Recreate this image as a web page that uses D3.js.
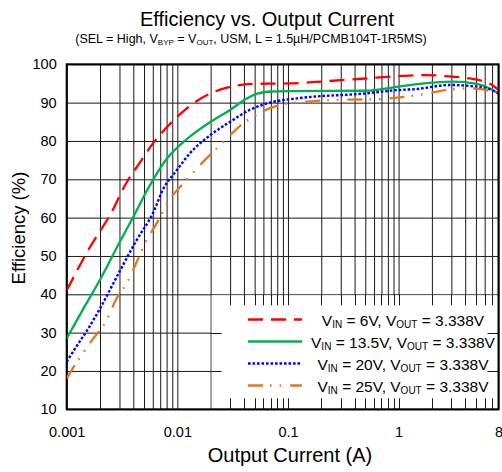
<!DOCTYPE html>
<html><head><meta charset="utf-8">
<script src="https://cdn.jsdelivr.net/npm/d3@7"></script>
<style>
body{margin:0;background:#fff}
text{font-family:"Liberation Sans",Arial,Helvetica,sans-serif;fill:#000}
</style>
</head><body>
<svg id="chart" width="502" height="472"></svg>
<script>
// ---- data ----
const vinLabels = ["6V", "13.5V", "20V", "25V"];
const voutLabel = "3.338V";
const seriesColors = ["#ff0000", "#00b050", "#0000ff", "#e2771f"];

const current6V = [0.001, 0.0016, 0.0025, 0.0035, 0.0045, 0.006, 0.008, 0.0128, 0.02, 0.032, 0.05, 0.1, 0.2, 0.5, 1, 1.7, 2.7, 4.4, 6.7, 8];
const eff6V     = [41, 52, 61, 69.3, 74, 79.3, 83.5, 89, 92.4, 94.3, 94.9, 95.0, 95.5, 96.3, 96.9, 97.2, 96.9, 96.3, 94.9, 93.3];

const current13V = [0.001, 0.0014, 0.002, 0.003, 0.004, 0.0053, 0.008, 0.0128, 0.02, 0.03, 0.042, 0.052, 0.07, 0.12, 0.5, 1, 2, 3.1, 5.1, 6.7, 8];
const eff13V     = [28.5, 36, 43.8, 53.5, 60.2, 67, 75.3, 81, 85, 88.1, 91, 92.3, 92.9, 93.0, 93.1, 94.2, 95.2, 95.5, 94.9, 93.7, 92.4];

const current20V = [0.001, 0.0012, 0.0016, 0.002, 0.003, 0.0043, 0.006, 0.0075, 0.0099, 0.013, 0.02, 0.03, 0.045, 0.069, 0.12, 0.5, 1, 1.4, 2.9, 4.5, 6.5, 8];
const eff20V     = [22.4, 26, 31.5, 36.3, 45.9, 54.2, 61.1, 67.6, 72.4, 76.8, 81.6, 85, 88.1, 90, 91.1, 92.4, 93.3, 93.5, 94.6, 94.3, 93.6, 92.4];

const current25V = [0.001, 0.0013, 0.0017, 0.0023, 0.0028, 0.0035, 0.0043, 0.0051, 0.0065, 0.0089, 0.011, 0.0172, 0.0243, 0.0395, 0.058, 0.091, 0.143, 0.257, 0.635, 1.68, 2.73, 4.43, 6.5, 8];
const eff25V     = [18.1, 23.3, 28.1, 33.3, 38.7, 42.9, 48.5, 53.3, 58.5, 65.5, 68.5, 74.6, 78.9, 84.6, 87.6, 89.6, 90.2, 90.7, 90.9, 92.2, 93.3, 93.7, 93.2, 92.5];

const yTicks = [10, 20, 30, 40, 50, 60, 70, 80, 90, 100];
const xTickValues = [0.001, 0.01, 0.1, 1, 8];
const xTickLabels = ["0.001", "0.01", "0.1", "1", "8"];

// ---- layout ----
const L = 66.7, R = 498.5, T = 64.3, B = 409.3;
const x = d3.scaleLog().domain([0.001, 8]).range([L, R]);
const y = d3.scaleLinear().domain([10, 100]).range([B, T]);
const svg = d3.select("#chart");
svg.append("rect").attr("width", 502).attr("height", 472).attr("fill", "#fff");

// minor grid positions (1..9 per decade)
const gridX = [];
[0.001, 0.01, 0.1, 1].forEach(dec => {
  for (let k = 1; k <= 9; k++) { const v = +(k * dec).toPrecision(3); if (v <= 8) gridX.push(v); }
});

// vertical grid
svg.append("g").attr("transform", `translate(0,${B})`)
  .call(d3.axisBottom(x).tickValues(gridX).tickSize(-(B - T)).tickFormat(""))
  .call(g => g.select(".domain").remove())
  .call(g => g.selectAll("line").attr("stroke", "#1a1a1a").attr("stroke-width", 1));
// horizontal grid
svg.append("g").attr("transform", `translate(${L},0)`)
  .call(d3.axisLeft(y).tickValues(yTicks).tickSize(-(R - L)).tickFormat(""))
  .call(g => g.select(".domain").remove())
  .call(g => g.selectAll("line").attr("stroke", "#1a1a1a").attr("stroke-width", 1));

// legend inset box (covers grid, keeps edge ticks)
const lx0 = x(0.02), ly0 = y(40);
svg.append("rect").attr("x", lx0 + 1).attr("y", ly0 + 1)
  .attr("width", R - lx0 - 2).attr("height", B - ly0 - 2).attr("fill", "#fff");
const tickLen = 11;
const insideX = gridX.filter(v => v > 0.02 && v < 8);
const tg = svg.append("g").attr("stroke", "#1a1a1a").attr("stroke-width", 1);
insideX.forEach(v => {
  const px = Math.round(x(v)) + 0.5;
  tg.append("line").attr("x1", px).attr("x2", px).attr("y1", ly0).attr("y2", ly0 + tickLen);
  tg.append("line").attr("x1", px).attr("x2", px).attr("y1", B - tickLen).attr("y2", B);
});
yTicks.filter(v => v > 10 && v < 40).forEach(v => {
  const py = Math.round(y(v)) + 0.5;
  tg.append("line").attr("x1", lx0).attr("x2", lx0 + tickLen).attr("y1", py).attr("y2", py);
  tg.append("line").attr("x1", R - tickLen).attr("x2", R).attr("y1", py).attr("y2", py);
});

// frame
svg.append("rect").attr("x", L).attr("y", T).attr("width", R - L).attr("height", B - T)
  .attr("fill", "none").attr("stroke", "#000").attr("stroke-width", 2);

// curves
svg.append("clipPath").attr("id", "clip").append("rect")
  .attr("x", L).attr("y", T).attr("width", R - L).attr("height", B - T);
const series = [
  {c: current6V, e: eff6V, dash: "15,8", w: 2.3},
  {c: current13V, e: eff13V, dash: null, w: 2.3},
  {c: current20V, e: eff20V, dash: "2.6,1.9", w: 2.4},
  {c: current25V, e: eff25V, dash: "15,7,1.6,8,1.6,9", w: 2.3}
];
const line = d3.line().x(d => x(d[0])).y(d => y(d[1])).curve(d3.curveMonotoneX);
const cg = svg.append("g").attr("clip-path", "url(#clip)");
series.forEach((s, i) => {
  cg.append("path").datum(s.c.map((v, j) => [v, s.e[j]]))
    .attr("d", line).attr("fill", "none").attr("stroke", seriesColors[i])
    .attr("stroke-width", s.w).attr("stroke-dasharray", s.dash);
});

// axes labels
svg.append("g").attr("transform", `translate(${L},0)`)
  .call(d3.axisLeft(y).tickValues(yTicks).tickSize(0).tickPadding(10))
  .call(g => g.select(".domain").remove())
  .call(g => g.selectAll("text").style("font-size", "14.5px")
      .style("font-family", '"Liberation Sans",Arial,sans-serif').attr("fill", "#000"));
svg.append("g").attr("transform", `translate(0,${B})`)
  .call(d3.axisBottom(x).tickValues(xTickValues).tickFormat((d, i) => xTickLabels[i]).tickSize(0).tickPadding(17))
  .call(g => g.select(".domain").remove())
  .call(g => g.selectAll("text").style("font-size", "14.5px")
      .style("font-family", '"Liberation Sans",Arial,sans-serif').attr("fill", "#000"));

// titles
svg.append("text").attr("x", 267).attr("y", 26).attr("text-anchor", "middle")
  .style("font-size", "20px").text("Efficiency vs. Output Current");
const sub = svg.append("text").attr("x", 251).attr("y", 43).attr("text-anchor", "middle").style("font-size", "12.5px");
sub.append("tspan").text("(SEL = High, V");
sub.append("tspan").attr("dy", 2).style("font-size", "8px").text("BYP");
sub.append("tspan").attr("dy", -2).text(" = V");
sub.append("tspan").attr("dy", 2).style("font-size", "8px").text("OUT");
sub.append("tspan").attr("dy", -2).text(", USM, L = 1.5µH/PCMB104T-1R5MS)");

svg.append("text").attr("transform", "translate(25,228) rotate(-90)").attr("text-anchor", "middle")
  .style("font-size", "18.5px").text("Efficiency (%)");
svg.append("text").attr("x", 290).attr("y", 462).attr("text-anchor", "middle")
  .style("font-size", "20px").text("Output Current (A)");

// legend
vinLabels.forEach((vin, i) => {
  const ly = 319.5 + i * 22;
  svg.append("line").attr("x1", 248).attr("x2", 302).attr("y1", ly).attr("y2", ly)
    .attr("stroke", seriesColors[i]).attr("stroke-width", series[i].w).attr("stroke-dasharray", series[i].dash);
  const t = svg.append("text").attr("x", 403).attr("y", ly + 6.5).attr("text-anchor", "middle").style("font-size", "15.5px");
  t.append("tspan").text("V");
  t.append("tspan").attr("dy", 2).style("font-size", "10px").text("IN");
  t.append("tspan").attr("dy", -2).text(" = " + vin + ", V");
  t.append("tspan").attr("dy", 2).style("font-size", "10px").text("OUT");
  t.append("tspan").attr("dy", -2).text(" = " + voutLabel);
});
</script>
</body></html>
